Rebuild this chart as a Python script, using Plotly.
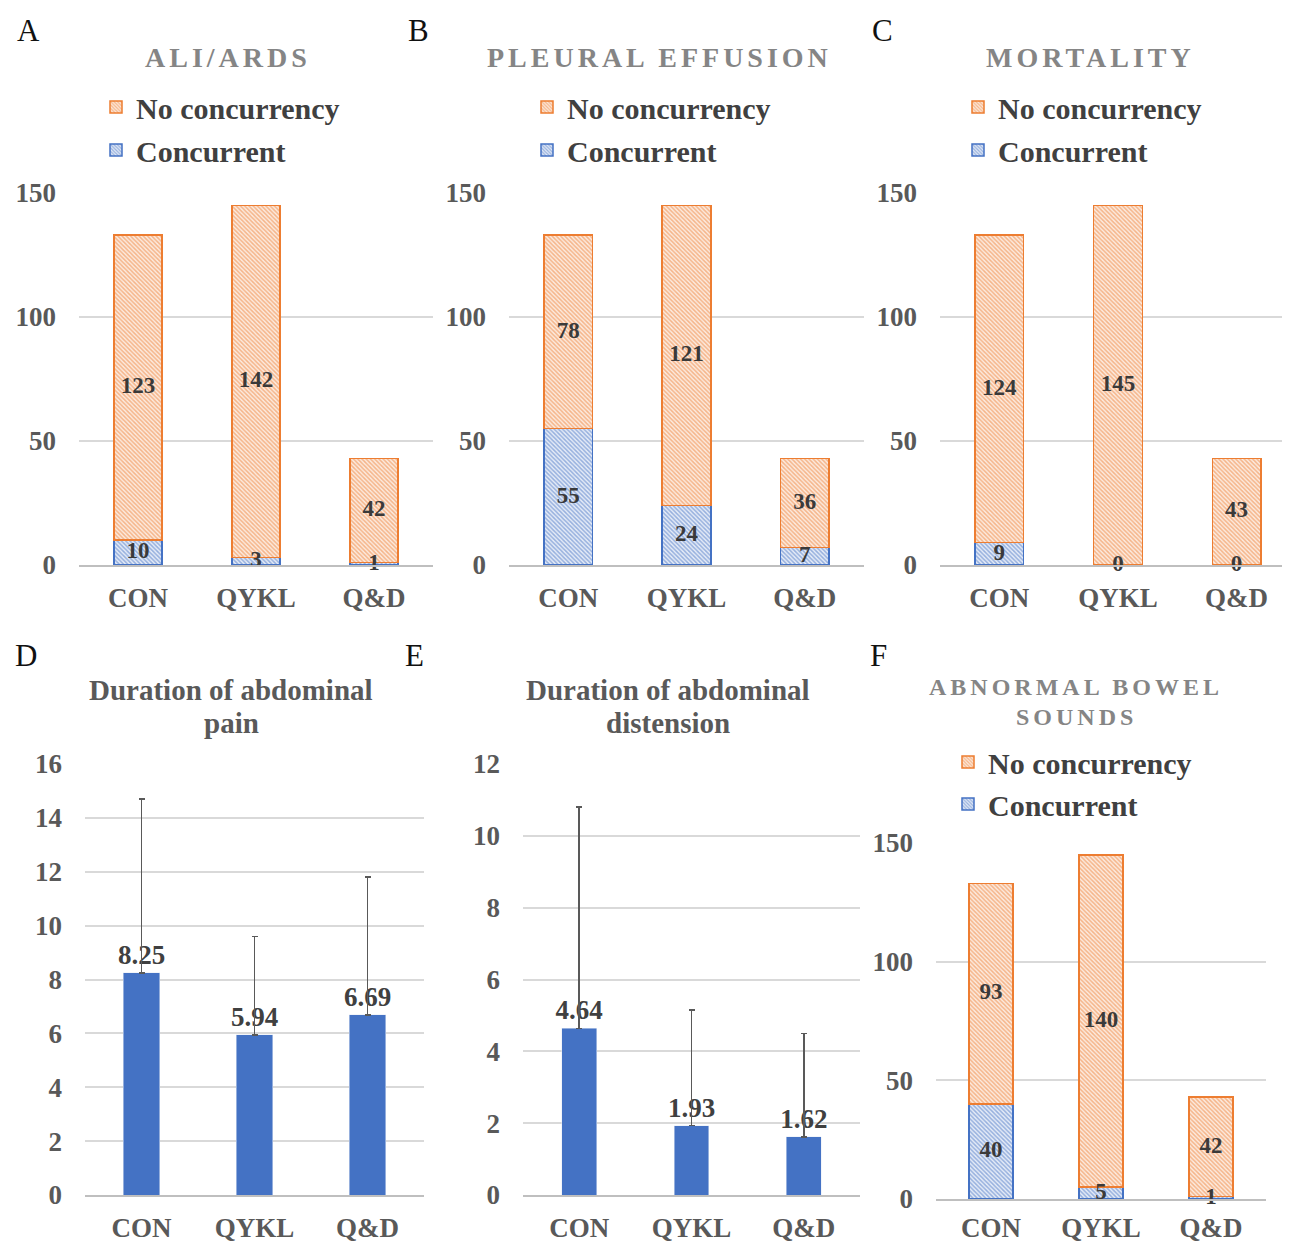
import plotly.graph_objects as go
import numpy as np

W, H = 1290, 1243
OFF = 8  # page body margin
FONT = "Liberation Serif"
ORANGE = "#ED7D31"
BLUE = "#4472C4"

cats = ["CON", "QYKL", "Q&D"]

ali_conc = [10, 3, 1]
ali_no = [123, 142, 42]
pe_conc = [55, 24, 7]
pe_no = [78, 121, 36]
mort_conc = [9, 0, 0]
mort_no = [124, 145, 43]
abs_conc = [40, 5, 1]
abs_no = [93, 140, 42]

pain_mean = [8.25, 5.94, 6.69]
pain_err = [6.45, 3.66, 5.11]
dist_mean = [4.64, 1.93, 1.62]
dist_err = [6.16, 3.22, 2.88]


def fx(px):
    return (px - OFF) / W


def fy(py):
    return 1 - (py - OFF) / H


fig = go.Figure()


def ax(n, kind):
    return kind if n == 1 else f"{kind}{n}"


def add_stack(n, conc, no, legend, width):
    xa, ya = ax(n, "x"), ax(n, "y")
    fig.add_bar(x=cats, y=conc, name="Concurrent", xaxis=xa, yaxis=ya, legend=legend,
                legendgroup=f"c{n}", legendrank=2, width=width,
                marker=dict(color="#DAE3F3", line=dict(color=BLUE, width=1.5),
                            pattern=dict(shape="\\", fgcolor=BLUE, bgcolor="#E6ECF7",
                                         size=3, solidity=0.5)))
    fig.add_bar(x=cats, y=no, name="No concurrency", xaxis=xa, yaxis=ya, legend=legend,
                legendgroup=f"n{n}", legendrank=1, width=width,
                marker=dict(color="#FBE5D6", line=dict(color=ORANGE, width=1.5),
                            pattern=dict(shape="\\", fgcolor=ORANGE, bgcolor="#FCEBDF",
                                         size=3, solidity=0.5)))
    c = np.array(conc, dtype=float)
    o = np.array(no, dtype=float)
    lab = dict(family=FONT, size=23, color="#3A3A3A", weight="bold")
    fig.add_scatter(x=cats, y=c / 2, text=[str(v) for v in conc], mode="text",
                    textfont=lab, showlegend=False, xaxis=xa, yaxis=ya, cliponaxis=False,
                    hoverinfo="skip")
    fig.add_scatter(x=cats, y=c + o / 2, text=[str(v) for v in no], mode="text",
                    textfont=lab, showlegend=False, xaxis=xa, yaxis=ya, cliponaxis=False,
                    hoverinfo="skip")


def add_mean(n, mean, err, width):
    xa, ya = ax(n, "x"), ax(n, "y")
    fig.add_bar(x=cats, y=mean, xaxis=xa, yaxis=ya, width=width, showlegend=False,
                marker=dict(color=BLUE), text=[f"{v:.2f}" for v in mean],
                textposition="outside", constraintext="none", cliponaxis=False,
                textfont=dict(family=FONT, size=27, color="#404040", weight="bold"),
                error_y=dict(type="data", symmetric=False, array=err, arrayminus=[0] * len(err),
                             color="#595959", thickness=1.5, width=3))


add_stack(1, ali_conc, ali_no, "legend", 0.41)
add_stack(2, pe_conc, pe_no, "legend2", 0.41)
add_stack(3, mort_conc, mort_no, "legend3", 0.41)
add_mean(4, pain_mean, pain_err, 0.32)
add_mean(5, dist_mean, dist_err, 0.31)
add_stack(6, abs_conc, abs_no, "legend4", 0.40)

tickfont = dict(family=FONT, size=27, color="#595959", weight="bold")

# panel geometry in reference pixels: (x0, x1, ytop, ybottom, yrange, dtick, xrange, xstandoff)
geo = {
    1: (79, 433, 193, 565, [0, 150], 50, [-0.5, 2.5], 8),
    2: (509, 864, 193, 565, [0, 150], 50, [-0.5, 2.5], 8),
    3: (940, 1290, 193, 565, [0, 150], 50, [-0.5, 2.45], 8),
    4: (85, 424, 764, 1195, [0, 16], 2, [-0.5, 2.5], 8),
    5: (523, 860, 764, 1195, [0, 12], 2, [-0.5, 2.5], 8),
    6: (936, 1266, 843, 1199, [0, 150], 50, [-0.5, 2.5], 4),
}

layout = {}
for n, (x0, x1, yt, yb, yr, dt, xr, xs) in geo.items():
    xname = "xaxis" if n == 1 else f"xaxis{n}"
    yname = "yaxis" if n == 1 else f"yaxis{n}"
    layout[xname] = dict(domain=[fx(x0), min(fx(x1), 1)], anchor=ax(n, "y"), range=xr,
                         showline=True, linecolor="#BFBFBF", linewidth=2, showgrid=False,
                         zeroline=False, ticks="", ticklabelstandoff=xs, tickfont=tickfont,
                         fixedrange=True, automargin=False)
    layout[yname] = dict(domain=[fy(yb), fy(yt)], anchor=ax(n, "x"), range=yr, dtick=dt,
                         showgrid=True, gridcolor="#D9D9D9", gridwidth=1.5, zeroline=False,
                         showline=False, ticks="", ticklabelstandoff=22, tickfont=tickfont,
                         fixedrange=True, automargin=False)

legfont = dict(family=FONT, size=30, color="#404040", weight="bold")


def leg(text_x, row1_y, gap):
    return dict(x=fx(text_x - 42), y=fy(row1_y - 27), xanchor="left", yanchor="top",
                font=legfont, bgcolor="rgba(0,0,0,0)", traceorder="grouped",
                tracegroupgap=gap, orientation="v")


layout["legend"] = leg(138, 108, 1)
layout["legend2"] = leg(569, 108, 1)
layout["legend3"] = leg(1000, 108, 1)
layout["legend4"] = leg(990, 763, 0)

annotations = []
for letter, (px, py) in {"A": (28, 30), "B": (418, 30), "C": (882, 30),
                         "D": (26, 655), "E": (414, 655), "F": (878, 655)}.items():
    annotations.append(dict(text=letter, x=fx(px), y=fy(py), xref="paper", yref="paper",
                            showarrow=False, xanchor="center", yanchor="middle",
                            font=dict(family=FONT, size=31, color="#111111")))


def title(text, cx, cy, size, color, spacing):
    t = f'<span style="letter-spacing:{spacing}px">{text}</span>' if spacing else text
    annotations.append(dict(text=t, x=fx(cx), y=fy(cy), xref="paper", yref="paper",
                            showarrow=False, xanchor="center", yanchor="middle",
                            font=dict(family=FONT, size=size, color=color, weight="bold")))


title("ALI/ARDS", 228, 58, 28, "#858585", 4)
title("PLEURAL EFFUSION", 659, 58, 28, "#858585", 4)
title("MORTALITY", 1090, 58, 28, "#858585", 4)
title("Duration of abdominal", 231, 690, 29, "#595959", 0)
title("pain", 231, 723, 29, "#595959", 0)
title("Duration of abdominal", 668, 690, 29, "#595959", 0)
title("distension", 668, 723, 29, "#595959", 0)
title("ABNORMAL BOWEL", 1076, 687, 24, "#858585", 4)
title("SOUNDS", 1076, 717, 24, "#858585", 4)

fig.update_layout(**layout)
fig.update_layout(width=W, height=H, margin=dict(l=0, r=0, t=0, b=0, autoexpand=False),
                  barmode="stack", plot_bgcolor="white", paper_bgcolor="white",
                  annotations=annotations, font=dict(family=FONT), bargap=0.5)

fig.write_html("out.html")
